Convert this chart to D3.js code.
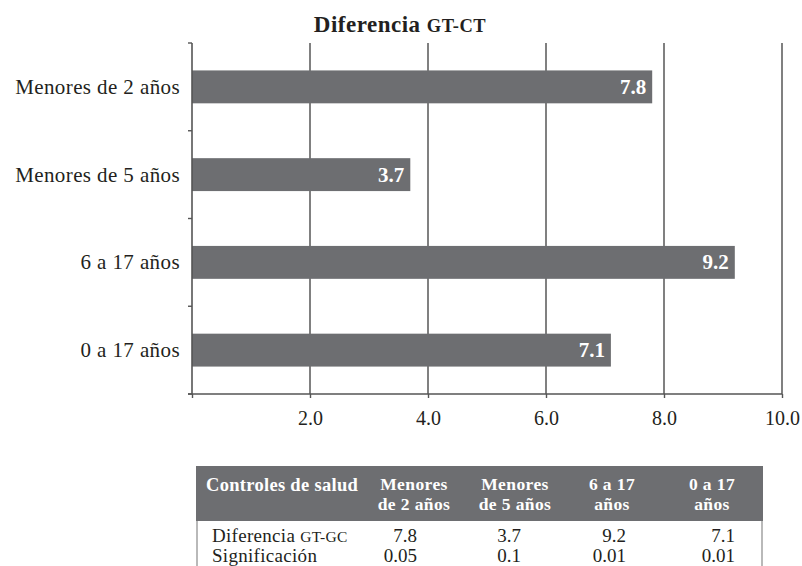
<!DOCTYPE html>
<html>
<head>
<meta charset="utf-8">
<script src="https://cdn.jsdelivr.net/npm/d3@7"></script>
<style>
	body { margin: 0; background: #fff; }
	svg text { font-family: "Liberation Serif", "Times New Roman", serif; fill: #231f20; }
</style>
</head>
<body>
<div id="chart"></div>
<script>
'use strict';

// Data
var categories = ["Menores de 2 años", "Menores de 5 años", "6 a 17 años", "0 a 17 años"];
var values = [7.8, 3.7, 9.2, 7.1];
var xTicks = [0, 2, 4, 6, 8, 10];

var tableTitle = "Controles de salud";
var tableColumns = [["Menores", "de 2 años"], ["Menores", "de 5 años"], ["6 a 17", "años"], ["0 a 17", "años"]];
var tableRowLabels = [["Diferencia ", "GT-GC"], ["Significación", ""]];
var tableDiff = ["7.8", "3.7", "9.2", "7.1"];
var tableSig = ["0.05", "0.1", "0.01", "0.01"];

var width = 802;
var height = 566;
var barColor = "#6d6e71";

var svg = d3.select("#chart").append("svg")
	.attr("width", width)
	.attr("height", height);

var x = d3.scaleLinear().domain([0, 10]).range([192, 782]);
var y = d3.scaleBand().domain(categories).range([43, 394])
	.paddingInner(0.625).paddingOuter(0.3125);

function draw_chart() {
	var top = y.range()[0];
	var bottom = y.range()[1];

	// title with small caps part
	var title = svg.append("text")
		.attr("x", 400)
		.attr("y", 32)
		.attr("text-anchor", "middle")
		.style("font-weight", "bold")
		.style("font-size", "23px")
		.style("letter-spacing", "0.5px");
	title.append("tspan").text("Diferencia ");
	title.append("tspan").style("font-size", "18.5px").text("GT-CT");

	// vertical grid lines
	svg.append("g").selectAll("line")
		.data(xTicks.filter(function(d) { return d > 0; }))
		.enter().append("line")
		.attr("x1", function(d) { return x(d); })
		.attr("x2", function(d) { return x(d); })
		.attr("y1", top)
		.attr("y2", bottom)
		.style("stroke", "#3c3c3c")
		.style("stroke-width", "1.3");

	// bars
	svg.append("g").selectAll("rect")
		.data(values)
		.enter().append("rect")
		.attr("x", x(0))
		.attr("y", function(d, i) { return y(categories[i]); })
		.attr("width", function(d) { return x(d) - x(0); })
		.attr("height", y.bandwidth())
		.style("fill", barColor);

	// value labels inside the bars
	svg.append("g").selectAll("text")
		.data(values)
		.enter().append("text")
		.attr("x", function(d) { return x(d) - 6; })
		.attr("y", function(d, i) { return y(categories[i]) + y.bandwidth() / 2 + 7; })
		.attr("text-anchor", "end")
		.style("fill", "#fff")
		.style("font-weight", "bold")
		.style("font-size", "21px")
		.text(function(d) { return d.toFixed(1); });

	// x axis
	var xAxis = d3.axisBottom(x)
		.tickValues(xTicks)
		.tickSize(4)
		.tickPadding(13)
		.tickFormat(function(d) { return d ? d.toFixed(1) : ""; });

	var gx = svg.append("g")
		.attr("transform", "translate(0," + bottom + ")")
		.call(xAxis);
	gx.select(".domain").attr("d", "M" + (x(0) - 4) + ",0H" + x(10))
		.style("stroke", "#555").style("stroke-width", "1.6");
	gx.selectAll(".tick line").style("stroke", "#555").style("stroke-width", "1.4");
	gx.selectAll(".tick text")
		.style("font-size", "20px")
		.style("font-family", "Liberation Serif, serif")
		.style("fill", "#231f20");

	// y axis: line plus ticks on the band boundaries
	var gy = svg.append("g");
	gy.append("line")
		.attr("x1", x(0)).attr("x2", x(0))
		.attr("y1", top).attr("y2", bottom)
		.style("stroke", "#555").style("stroke-width", "1.6");

	gy.selectAll(".ytick")
		.data(d3.range(categories.length + 1))
		.enter().append("line")
		.attr("class", "ytick")
		.attr("x1", x(0) - 4).attr("x2", x(0))
		.attr("y1", function(i) { return top + i * y.step(); })
		.attr("y2", function(i) { return top + i * y.step(); })
		.style("stroke", "#555").style("stroke-width", "1.4");

	gy.selectAll(".ylabel")
		.data(categories)
		.enter().append("text")
		.attr("class", "ylabel")
		.attr("x", x(0) - 12)
		.attr("y", function(d) { return y(d) + y.bandwidth() / 2 + 7; })
		.attr("text-anchor", "end")
		.style("font-size", "21px")
		.style("letter-spacing", "0.4px")
		.text(function(d) { return d; });
}

function draw_table() {
	var left = 196;
	var right = 763;
	var headTop = 466;
	var headBottom = 521;
	var colCenters = [414, 515, 612, 712];
	var valueRight = [417, 521, 626, 735];
	var rowBase = [542, 562];

	svg.append("rect")
		.attr("x", left).attr("y", headTop)
		.attr("width", right - left).attr("height", headBottom - headTop)
		.style("fill", barColor);

	[left + 1, right - 1].forEach(function(bx) {
		svg.append("line")
			.attr("x1", bx).attr("x2", bx)
			.attr("y1", headBottom).attr("y2", height)
			.style("stroke", "#8a8a8a").style("stroke-width", "1.2");
	});

	svg.append("text")
		.attr("x", left + 10).attr("y", 491)
		.style("fill", "#fff").style("font-weight", "bold").style("font-size", "18.5px")
		.style("letter-spacing", "0.3px")
		.text(tableTitle);

	tableColumns.forEach(function(col, i) {
		col.forEach(function(line, j) {
			svg.append("text")
				.attr("x", colCenters[i]).attr("y", 490 + j * 20)
				.attr("text-anchor", "middle")
				.style("fill", "#fff").style("font-weight", "bold").style("font-size", "17.5px")
				.style("letter-spacing", "0.4px")
				.text(line);
		});
	});

	tableRowLabels.forEach(function(lbl, r) {
		var t = svg.append("text")
			.attr("x", left + 16).attr("y", rowBase[r])
			.style("font-size", "19px")
			.style("letter-spacing", "0.3px");
		t.append("tspan").text(lbl[0]);
		if (lbl[1]) {
			t.append("tspan").style("font-size", "15.5px").text(lbl[1]);
		}
	});

	[tableDiff, tableSig].forEach(function(row, r) {
		row.forEach(function(v, i) {
			svg.append("text")
				.attr("x", valueRight[i]).attr("y", rowBase[r])
				.attr("text-anchor", "end")
				.style("font-size", "19px")
				.text(v);
		});
	});
}

draw_chart();
draw_table();
</script>
</body>
</html>
